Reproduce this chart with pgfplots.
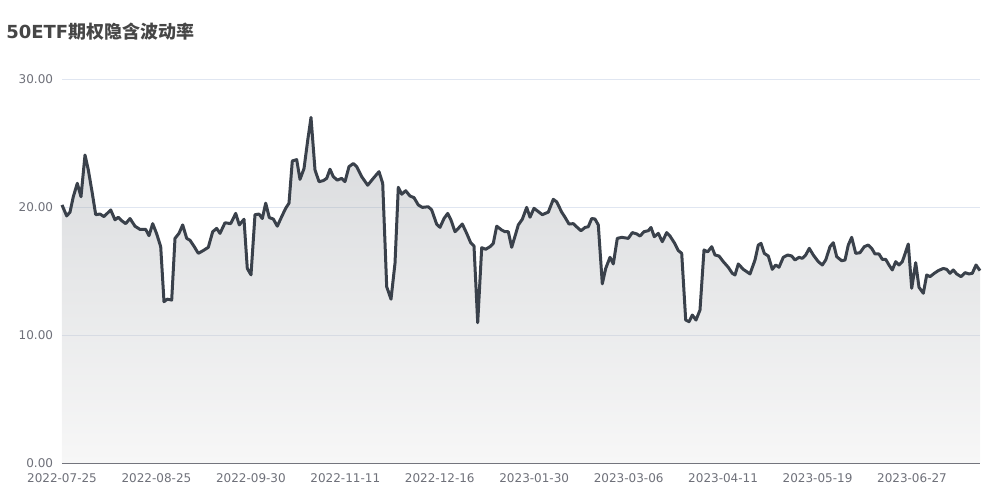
\documentclass[border=0pt]{standalone}
\usepackage{pgfplots}
\usepackage{pgfplotstable}
\pgfplotsset{compat=1.18}
\usepackage{fontspec}
\setmainfont{DejaVu Sans}
\newfontfamily\cjk{Noto Sans CJK SC}
\definecolor{titlec}{HTML}{464646}
\definecolor{axc}{HTML}{6E7079}
\definecolor{gridc}{HTML}{E0E6F1}
\definecolor{linec}{HTML}{3A414B}
\definecolor{areatop}{HTML}{8F949B}
\definecolor{areabot}{HTML}{E8E8E8}
% px = horizontal position on the 1000px chart (62 = first day, 980 = last day), v = implied volatility
\pgfplotstableread{
px v
62 20.16
66.7 19.3
70 19.6
73.3 20.8
77.3 21.85
81 20.8
85 24.06
88.3 22.9
92.3 21.07
95.7 19.4
100 19.45
104 19.25
110.7 19.77
115 19.0
118.3 19.2
121.7 18.93
125.7 18.7
130 19.1
135 18.5
140 18.25
145.7 18.25
149 17.76
152.7 18.7
156.7 17.9
160.7 16.9
164 12.6
167.3 12.8
171.7 12.73
175 17.55
179 17.94
182.7 18.6
186.7 17.55
190 17.4
194.3 16.9
198.3 16.38
203.3 16.6
208.3 16.85
212.7 18.07
216.7 18.33
220 17.94
225 18.77
230.7 18.7
235.7 19.5
239.3 18.6
244 19.04
247.3 15.2
251 14.7
255 19.4
259 19.45
262.3 19.1
265.7 20.3
269.3 19.17
273.3 19.06
277.3 18.5
281.7 19.25
285.7 19.9
289 20.3
292.3 23.6
296.7 23.7
300 22.16
304 23.0
307.7 25.2
311 27.0
315 22.9
319 21.98
323.3 22.06
326.7 22.24
330 22.95
333.3 22.37
337.3 22.1
341.7 22.24
345 21.98
349 23.15
353.3 23.4
356.7 23.15
361.7 22.37
367.7 21.7
373.3 22.24
379 22.76
382.7 21.85
386.7 13.77
391 12.8
395 15.6
398.3 21.54
401.7 21.0
405.7 21.27
410 20.86
414 20.73
418.3 20.16
422.3 19.97
428.3 20.02
431.7 19.77
436.7 18.65
440 18.41
444 19.1
447.7 19.5
451 18.98
455 18.07
458.3 18.33
462.3 18.67
466.7 17.94
470.7 17.21
474 16.95
477.7 10.96
481.7 16.82
485.7 16.7
490 16.9
493.3 17.16
496.7 18.5
501.7 18.2
505 18.07
508.3 18.07
511.7 16.85
515.7 17.9
518.3 18.6
522.3 19.04
526.7 19.97
530 19.2
534 19.9
542.3 19.4
548.3 19.6
553.3 20.6
556.7 20.4
561.7 19.6
565 19.2
569 18.67
573.3 18.7
578.3 18.33
581 18.15
585 18.4
588.3 18.46
591.7 19.1
595 19.06
598.3 18.6
602.3 14.0
605.7 15.2
610 16.07
613.3 15.55
617.3 17.55
621.7 17.63
628.3 17.55
632.3 18.0
636.7 17.9
640 17.73
644 18.07
648.3 18.15
651 18.4
654.3 17.68
658.3 17.94
662.3 17.29
666.7 18.0
670 17.73
674.3 17.21
678.3 16.6
681.7 16.38
685.7 11.17
689 11.04
692.3 11.56
696 11.17
700 11.95
704 16.64
707.7 16.5
711.7 16.9
715 16.25
719 16.17
723.3 15.73
728.3 15.29
732.3 14.82
735 14.69
738.3 15.55
743.3 15.13
750 14.77
755 15.86
758.3 17.03
761 17.16
764.3 16.38
768.3 16.17
772.3 15.13
775.7 15.47
779 15.29
783.3 16.07
787.7 16.25
791.7 16.17
795 15.86
799 16.07
802.3 15.99
805.7 16.25
809.3 16.77
813.3 16.25
818.3 15.73
822.3 15.47
825.7 15.86
830 16.9
833.3 17.21
836.7 16.12
841.7 15.8
845 15.86
848.3 17.03
851.7 17.63
855.7 16.38
860 16.43
864.3 16.9
868.3 17.03
871.7 16.77
875 16.33
879 16.33
882.3 15.91
885.7 15.91
889 15.47
892.3 15.08
895.7 15.73
899 15.47
902.3 15.73
905 16.33
908.3 17.11
911.7 13.65
915.7 15.65
919 13.73
923.3 13.26
926.7 14.69
930 14.56
934.3 14.82
938.3 15.03
943.3 15.2
946.7 15.13
950 14.82
953.3 15.08
956.7 14.77
961 14.56
965 14.87
969 14.77
972.3 14.82
976 15.47
980 15.03
}\ivdata
\begin{document}
\begin{tikzpicture}
\useasboundingbox (-46.5pt,-27.75pt) rectangle (703.5pt,347.25pt);
\begin{axis}[
  scale only axis, width=688.5pt, height=288pt,
  at={(0,0)}, anchor=south west,
  xmin=0, xmax=243, ymin=0, ymax=30,
  x filter/.expression={(x-62)/3.777778},
  xtick={0,25,...,225},
  xticklabels={2022-07-25,2022-08-25,2022-09-30,2022-11-11,2022-12-16,2023-01-30,2023-03-06,2023-04-11,2023-05-19,2023-06-27},
  ytick={0,10,20,30},
  yticklabels={0.00,10.00,20.00,30.00},
  axis x line*=bottom, axis y line*=left,
  x axis line style={axc, line width=0.75pt, -},
  y axis line style={draw=none},
  major tick length=0pt,
  ymajorgrids, y grid style={gridc, line width=0.75pt},
  xticklabel style={font=\fontsize{9}{10}\selectfont, text=axc, inner sep=0pt, anchor=north, yshift=-7.5pt},
  yticklabel style={font=\fontsize{9}{10}\selectfont, text=axc, inner sep=0pt, anchor=east, xshift=-6.5pt},
  clip=false,
]
\addplot[draw=none, top color=areatop, bottom color=areabot, fill opacity=0.35] table[x=px, y=v] {\ivdata} \closedcycle;
\addplot[linec, line width=2.25pt, line join=round, mark=none] table[x=px, y=v] {\ivdata};
\end{axis}
\node[anchor=base west, inner sep=0pt, text=titlec, font=\fontsize{13.5}{15}\selectfont\bfseries] at (-42pt,318pt) {50ETF{\cjk\bfseries 期权隐含波动率}};
\end{tikzpicture}
\end{document}
